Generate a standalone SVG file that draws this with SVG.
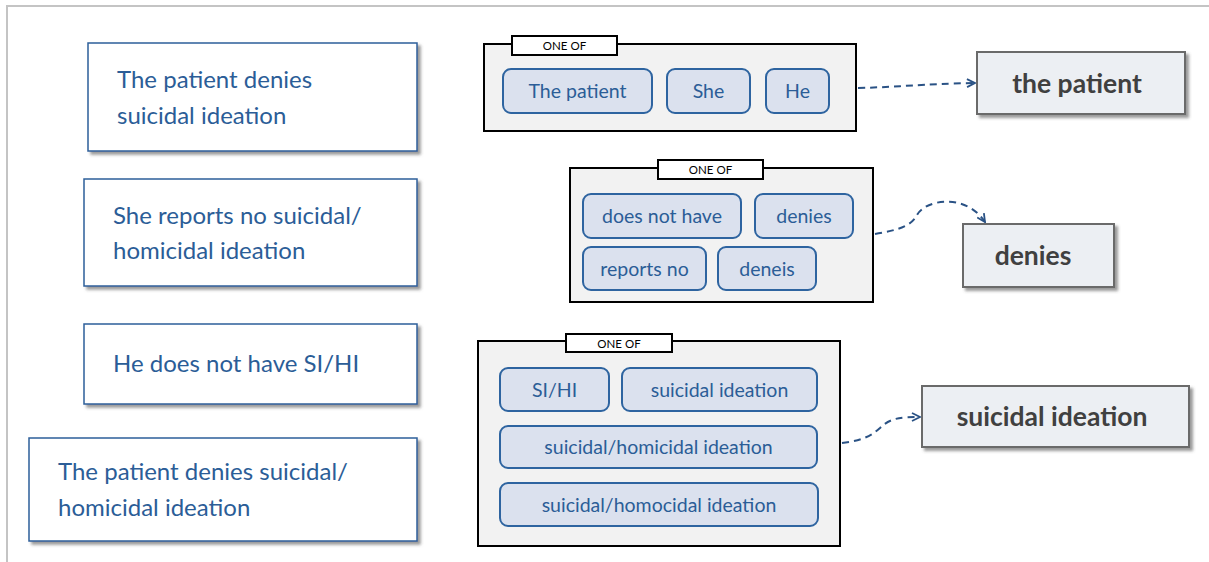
<svg xmlns="http://www.w3.org/2000/svg" width="1209" height="562" viewBox="0 0 1209 562">
<defs>
<filter id="sh" x="-5%" y="-10%" width="115%" height="130%">
<feDropShadow dx="3" dy="3" stdDeviation="1.8" flood-color="#555" flood-opacity="0.6"/>
</filter>
<marker id="ah" viewBox="0 0 10 10" refX="9" refY="5" markerWidth="10" markerHeight="10" orient="auto" markerUnits="userSpaceOnUse">
<path d="M1,1 L9,5 L1,9" fill="none" stroke="#2a5285" stroke-width="1.8"/>
</marker>
</defs>
<style>
.src{fill:#fff;stroke:#2e5f9a;stroke-width:1.5;filter:url(#sh)}
.st{font-family:Lato,"Noto Sans",sans-serif;font-size:24px;fill:#2b5d97}
.grp{fill:#f2f2f2;stroke:#000;stroke-width:2}
.tab{fill:#fff;stroke:#000;stroke-width:2}
.tt{font-family:Lato,"Noto Sans",sans-serif;font-size:11.5px;fill:#000;text-anchor:middle}
.chip{fill:#dbe1ee;stroke:#2e64a0;stroke-width:2}
.ct{font-family:Lato,"Noto Sans",sans-serif;font-size:19.5px;fill:#2b5d97;text-anchor:middle}
.tgt{fill:#eceff3;stroke:#6b6b6b;stroke-width:2;filter:url(#sh)}
.gt{font-family:Lato,"Noto Sans",sans-serif;font-size:26.5px;font-weight:bold;fill:#404040;text-anchor:middle}
.con{fill:none;stroke:#2a5285;stroke-width:2;stroke-dasharray:7 5;marker-end:url(#ah)}
</style>
<rect width="1209" height="562" fill="#fff"/>
<path d="M7,562 V6 H1209" fill="none" stroke="#c4c4c4" stroke-width="2"/>

<g id="src1"><rect class="src" x="88" y="43" width="329" height="108"/>
<text class="st" x="117" y="88">The patient denies</text><text class="st" x="117" y="124">suicidal ideation</text></g>
<g id="src2"><rect class="src" x="84" y="179" width="333" height="107"/>
<text class="st" x="113" y="224">She reports no suicidal/</text><text class="st" x="113" y="259">homicidal ideation</text></g>
<g id="src3"><rect class="src" x="84" y="324" width="333" height="80"/>
<text class="st" x="113" y="372">He does not have SI/HI</text></g>
<g id="src4"><rect class="src" x="29" y="438" width="388" height="103"/>
<text class="st" x="58" y="480">The patient denies suicidal/</text><text class="st" x="58" y="516">homicidal ideation</text></g>

<g id="group1"><rect class="grp" x="484" y="44" width="372" height="87"/>
<rect class="tab" x="512" y="36" width="105" height="19"/><text class="tt" x="564.5" y="50">ONE OF</text>
<rect class="chip" x="503" y="69" width="149" height="44" rx="8"/><text class="ct" x="577.5" y="98">The patient</text>
<rect class="chip" x="667" y="69" width="83" height="44" rx="8"/><text class="ct" x="708.5" y="98">She</text>
<rect class="chip" x="766" y="69" width="63" height="44" rx="8"/><text class="ct" x="797.5" y="98">He</text></g>

<g id="group2"><rect class="grp" x="570" y="168" width="303" height="134"/>
<rect class="tab" x="658" y="160" width="105" height="19"/><text class="tt" x="710.5" y="174">ONE OF</text>
<rect class="chip" x="583" y="194" width="158" height="44" rx="8"/><text class="ct" x="662" y="223">does not have</text>
<rect class="chip" x="755" y="194" width="98" height="44" rx="8"/><text class="ct" x="804" y="223">denies</text>
<rect class="chip" x="583" y="247" width="123" height="43" rx="8"/><text class="ct" x="644.5" y="275.5">reports no</text>
<rect class="chip" x="718" y="247" width="98" height="43" rx="8"/><text class="ct" x="767" y="275.5">deneis</text></g>

<g id="group3"><rect class="grp" x="478" y="341" width="362" height="205"/>
<rect class="tab" x="566" y="334" width="106" height="18"/><text class="tt" x="619" y="347.5">ONE OF</text>
<rect class="chip" x="500" y="368" width="109" height="43" rx="8"/><text class="ct" x="554.5" y="396.5">SI/HI</text>
<rect class="chip" x="622" y="368" width="195" height="43" rx="8"/><text class="ct" x="719.5" y="396.5">suicidal ideation</text>
<rect class="chip" x="500" y="426" width="317" height="42" rx="8"/><text class="ct" x="658.5" y="454">suicidal/homicidal ideation</text>
<rect class="chip" x="500" y="483" width="318" height="43" rx="8"/><text class="ct" x="659" y="511.5">suicidal/homocidal ideation</text></g>

<g id="tgt1"><rect class="tgt" x="977" y="52" width="208" height="62"/><text class="gt" x="1077" y="93">the patient</text></g>
<g id="tgt2"><rect class="tgt" x="963" y="224" width="151" height="63"/><text class="gt" x="1033" y="265">denies</text></g>
<g id="tgt3"><rect class="tgt" x="922" y="386" width="267" height="61"/><text class="gt" x="1052" y="426">suicidal ideation</text></g>

<g id="connectors">
<path class="con" d="M858,88 C900,87 920,84 975,83"/>
<path class="con" d="M875,234 C900,230 912,225 917,215 C925,200 965,192 985,222"/>
<path class="con" d="M842,443 C865,440 872,435 880,428 C890,418 900,417 920,417"/>
</g>
</svg>
